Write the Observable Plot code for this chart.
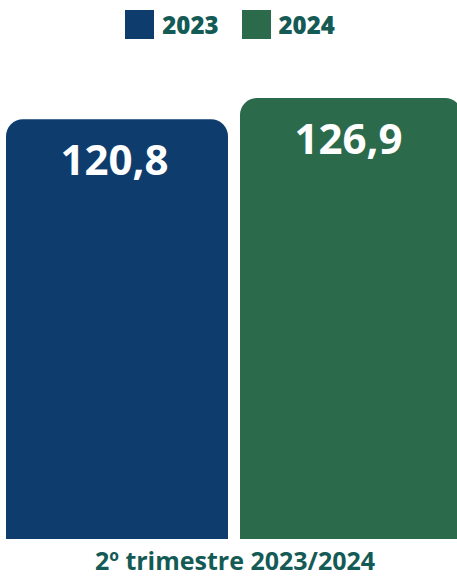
<!DOCTYPE html>
<html><head><meta charset="utf-8">
<script src="https://cdn.jsdelivr.net/npm/d3@7"></script>
<script src="https://cdn.jsdelivr.net/npm/@observablehq/plot@0.6"></script>
<style>
body{margin:0;background:#fff;font-family:"Open Sans",sans-serif;overflow:hidden;width:457px;height:577px}
#legend{width:457px;height:48px;display:flex;align-items:center;justify-content:center;gap:0;padding-left:3px;box-sizing:border-box}
.item{display:flex;align-items:center;font-weight:800;font-size:24px;color:#145a55}
.sw{width:29px;height:29px;margin-right:8px}
#chart{width:457px;overflow:hidden}
#chart svg{max-width:none !important;display:block}
</style></head>
<body>
<div id="legend"></div>
<div id="chart"></div>
<script>
const period = ["2º trimestre 2023/2024"];
const years = ["2023", "2024"];
const values = [120.8, 126.9];
const labels = ["120,8", "126,9"];
const colors = ["#0e3d6d", "#2b6b4c"];

const data = years.map((y, i) => ({period: period[0], year: y, value: values[i], label: labels[i]}));

const leg = document.getElementById("legend");
years.forEach((y, i) => {
  const it = document.createElement("div");
  it.className = "item";
  it.style.marginRight = i === 0 ? "23px" : "0";
  it.innerHTML = `<span class="sw" style="background:${colors[i]}"></span>${y}`;
  leg.appendChild(it);
});

const chart = Plot.plot({
  width: 463,
  height: 529,
  marginLeft: 6,
  marginRight: 0,
  marginTop: 50,
  marginBottom: 38,
  style: {fontFamily: "Open Sans", background: "#fff", maxWidth: "none"},
  fx: {domain: period, padding: 0, label: null, axis: "bottom", tickSize: 0, tickPadding: 13},
  x: {domain: years, paddingInner: 0.0512, paddingOuter: 0, axis: null},
  y: {domain: [0, d3.max(values)], axis: null},
  color: {domain: years, range: colors},
  marks: [
    Plot.barY(data, {fx: "period", x: "year", y: "value", fill: "year", rx: 17}),
    Plot.barY(data, {fx: "period", x: "year", y: d => d.value / 2, fill: "year"}),
    Plot.text(data, {fx: "period", x: "year", y: "value", text: "label", fill: "white",
      fontSize: 42, fontWeight: 700, lineAnchor: "bottom", dy: 55, dx: -3})
  ]
});
chart.querySelectorAll("g[aria-label='fx-axis tick label']").forEach(g => {
  g.setAttribute("font-size", 25);
  g.setAttribute("font-weight", 700);
  g.setAttribute("fill", "#145a55");
});
document.getElementById("chart").appendChild(chart);
</script>
</body></html>
